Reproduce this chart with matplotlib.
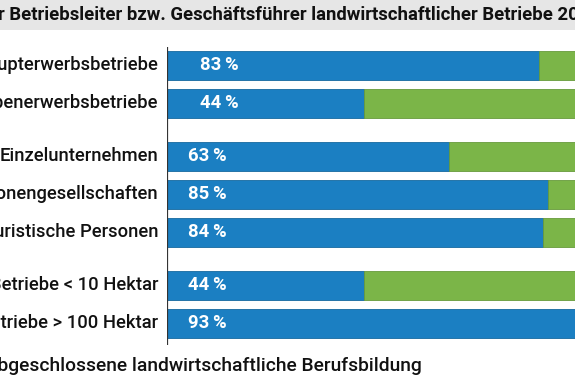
import matplotlib
matplotlib.use("Agg")
import matplotlib.pyplot as plt
from matplotlib.transforms import offset_copy

fam = ["Roboto", "DejaVu Sans"]
plt.rcParams["font.family"] = fam

title = "r Betriebsleiter bzw. Geschäftsführer landwirtschaftlicher Betriebe 20"
footer = "abgeschlossene landwirtschaftliche Berufsbildung"
categories = ["Haupterwerbsbetriebe", "Nebenerwerbsbetriebe",
              "Einzelunternehmen", "Personengesellschaften", "Juristische Personen",
              "Betriebe < 10 Hektar", "Betriebe > 100 Hektar"]
groups = [0, 0, 1, 1, 1, 2, 2]
with_training = [83, 44, 63, 85, 84, 44, 93]
without_training = [100 - v for v in with_training]

blue = "#1b7fc2"
green = "#7bb548"

W, H = 575, 383
fig = plt.figure(figsize=(W / 100, H / 100), dpi=100)
fig.patch.set_facecolor("white")

# grey title band
fig.patches.append(plt.Rectangle((0, 1 - 30 / H), 1, 30 / H, transform=fig.transFigure,
                                 facecolor="#e6e6e6", edgecolor="none", zorder=0))
fig.text(-2 / W, 1 - 15 / H, title, ha="left", va="center", fontsize=13.3,
         fontweight="bold", color="#111111")

# axes: 100 % spans from x=167 to x=615 px (cropped at the right)
ax = fig.add_axes([167 / W, 0, 448 / W, 1])
ax.set_xlim(0, 100)
ax.set_ylim(H, 0)
ax.axis("off")

ypos = [65 + 38 * i + 15 * g for i, g in enumerate(groups)]
ax.barh(ypos, with_training, height=29, color=blue, edgecolor="#15689f", linewidth=0.6)
ax.barh(ypos, without_training, left=with_training, height=29, color=green,
        edgecolor="#679a3b", linewidth=0.6)
ax.plot([0, 0], [47, 345], color="#333333", lw=1.6, solid_capstyle="butt")

lab_tr = offset_copy(ax.transData, fig=fig, x=-9, y=0, units="dots")
for y, cat, v, g in zip(ypos, categories, with_training, groups):
    ax.text(0, y, cat, transform=lab_tr, ha="right", va="center", fontsize=13.2,
            fontweight="medium", color="#111111")
    dx = 33 if g == 0 else 21
    ax.text(0, y, f"{v}\u2009%", transform=offset_copy(ax.transData, fig=fig, x=dx, y=0, units="dots"),
            ha="left", va="center", fontsize=13.3, fontweight="bold", color="white")

fig.text(422 / W, 1 - 366 / H, footer, ha="right", va="center", fontsize=13.9,
         fontweight="medium", color="#111111")

fig.savefig("out.png", dpi=100)
